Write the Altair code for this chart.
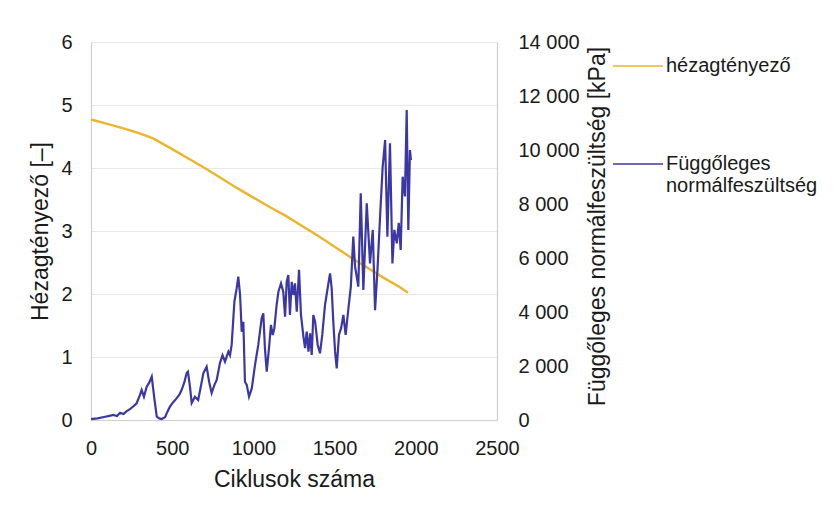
import altair as alt
import pandas as pd

# ---- data ----
series_names = ["hézagtényező", "Függőleges normálfeszültség"]

void_cycles = [0, 100, 200, 300, 382, 500, 600, 700, 800, 900, 1000, 1100, 1200,
               1300, 1400, 1500, 1600, 1700, 1800, 1900, 1952]
void_ratio = [4.77, 4.70, 4.63, 4.55, 4.47, 4.30, 4.15, 4.00, 3.84, 3.68, 3.53, 3.38,
              3.24, 3.08, 2.92, 2.75, 2.58, 2.42, 2.26, 2.11, 2.02]

stress_cycles = [0, 40, 80, 120, 137, 160, 179, 200, 220, 240, 260, 281, 300, 312, 326,
                 343, 360, 374, 390, 405, 420, 435, 456, 470, 486, 505, 528, 545, 558,
                 575, 589, 597, 610, 620, 640, 650, 660, 675, 692, 712, 728, 743, 760,
                 774, 794, 810, 825, 846, 856, 866, 883, 897, 907, 918, 928, 938, 948,
                 959, 973, 990, 1010, 1030, 1051, 1061, 1071, 1082, 1096, 1108, 1119,
                 1129, 1143, 1154, 1170, 1184, 1195, 1205, 1215, 1225, 1236, 1246, 1256,
                 1267, 1281, 1293, 1308, 1318, 1328, 1339, 1349, 1359, 1369, 1380, 1396,
                 1410, 1424, 1441, 1457, 1472, 1482, 1492, 1503, 1513, 1527, 1540, 1554,
                 1568, 1585, 1600, 1615, 1626, 1646, 1661, 1677, 1698, 1718, 1735, 1749,
                 1764, 1780, 1796, 1811, 1825, 1841, 1856, 1868, 1883, 1895, 1907, 1919,
                 1933, 1944, 1954, 1964, 1970]
stress_kpa = [30, 60, 110, 160, 185, 150, 270, 220, 330, 400, 500, 620, 900, 1110, 860,
              1235, 1400, 1605, 800, 124, 60, 37, 100, 300, 494, 650, 810, 950, 1110,
              1400, 1740, 1790, 1200, 630, 860, 800, 740, 1200, 1740, 1975, 1400, 1000, 1300,
              1480, 2110, 2400, 2160, 2530, 2400, 2780, 4380, 4880, 5310, 4630, 3270, 3640, 1420,
              1300, 863, 1170, 2040, 2780, 3770, 3950, 2660, 1790, 2660, 3520, 3150,
              3400, 4260, 4750, 5060, 4750, 3830, 5120, 5370, 3890, 5120, 4630, 5060,
              4010, 5560, 3890, 3090, 2660, 3270, 2530, 3210, 2410, 3890, 3640, 2780,
              2470, 3150, 4260, 4880, 5430, 4880, 3640, 2530, 1910, 3150, 3400, 3890,
              3150, 4130, 4940, 6790, 5680, 4940, 8400, 4820, 8030, 5800, 7040, 4070,
              5560, 7530, 9380, 10370, 6790, 10250, 5800, 7040, 6540, 7300, 6300, 9010,
              8280, 11480, 7040, 10000, 9630]

x_ticks = [0, 500, 1000, 1500, 2000, 2500]
left_ticks = [0, 1, 2, 3, 4, 5, 6]
right_ticks = [0, 2000, 4000, 6000, 8000, 10000, 12000, 14000]

YELLOW = "#EDB52A"
BLUE = "#3B38A6"
FONT = "Liberation Sans"

df_void = pd.DataFrame({"x": void_cycles, "y": void_ratio, "series": series_names[0]})
df_stress = pd.DataFrame({"x": stress_cycles, "y": stress_kpa, "series": series_names[1]})

color = alt.Color(
    "series:N",
    scale=alt.Scale(domain=series_names, range=[YELLOW, BLUE]),
    legend=alt.Legend(
        title=None, orient="none", legendX=521, legendY=-2,
        symbolType="stroke", symbolSize=2500, symbolStrokeWidth=1.6,
        labelFont=FONT, labelFontSize=20, labelColor="#1a1a1a", labelLimit=0,
        labelOffset=2, rowPadding=62,
        labelExpr="split(datum.label, ' ')",
    ),
)

x_enc = alt.X(
    "x:Q",
    scale=alt.Scale(domain=[0, 2500], nice=False),
    axis=alt.Axis(
        values=x_ticks, format="d", title="Ciklusok száma", grid=False, ticks=False,
        domainColor="#CFCFCF", domainWidth=1.2, labelFlush=False, labelOverlap=False,
        labelPadding=18, labelFont=FONT, labelFontSize=20, labelColor="#1a1a1a",
        titleFont=FONT, titleFontSize=23, titleFontWeight="normal", titleColor="#1a1a1a",
        titleX=203, titleY=66, titleBaseline="alphabetic",
    ),
)

void_line = alt.Chart(df_void).mark_line(strokeWidth=2.4).encode(
    x=x_enc,
    y=alt.Y(
        "y:Q",
        scale=alt.Scale(domain=[0, 6], nice=False),
        axis=alt.Axis(
            values=left_ticks, title="Hézagtényező  [–]", grid=True, gridColor="#E9E9E9",
            ticks=False, domainColor="#CFCFCF", domainWidth=1.2, labelPadding=19,
            labelFont=FONT, labelFontSize=20, labelColor="#1a1a1a", labelFlush=False,
            titleFont=FONT, titleFontSize=23, titleFontWeight="normal", titleColor="#1a1a1a",
            titleX=-51, titleY=189, titleAngle=270, titleBaseline="middle", titleAlign="center",
        ),
    ),
    color=color,
)

stress_line = alt.Chart(df_stress).mark_line(strokeWidth=2.2).encode(
    x=alt.X("x:Q"),
    y=alt.Y(
        "y:Q",
        scale=alt.Scale(domain=[0, 14000], nice=False),
        axis=alt.Axis(
            orient="right", values=right_ticks, grid=False, ticks=False,
            title="Függőleges  normálfeszültség  [kPa]",
            labelExpr="replace(format(datum.value, ','), ',', ' ')",
            domainColor="#CFCFCF", domainWidth=1.2, labelPadding=21, labelFlush=False,
            labelFont=FONT, labelFontSize=20, labelColor="#1a1a1a",
            titleFont=FONT, titleFontSize=23, titleFontWeight="normal", titleColor="#1a1a1a",
            titleX=100, titleY=184, titleAngle=270, titleBaseline="middle", titleAlign="center",
        ),
    ),
    color=color,
)

chart = (
    alt.layer(void_line, stress_line)
    .resolve_scale(y="independent")
    .properties(
        width=406, height=378,
        autosize=alt.AutoSizeParams(type="none"),
        padding={"left": 83, "top": 34, "right": 333, "bottom": 82},
        background="white",
    )
    .configure_view(stroke=None)
)

chart.save("out.html", embed_options={"renderer": "svg", "actions": False})
